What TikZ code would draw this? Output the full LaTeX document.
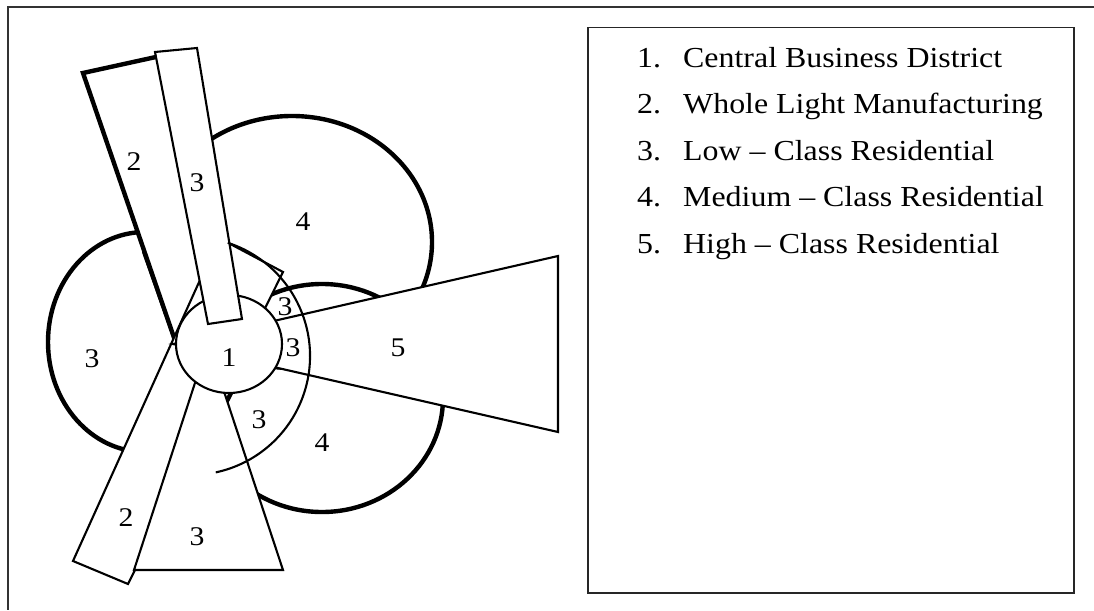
\documentclass[tikz,border=0pt]{standalone}
\usepackage{fontspec}
\setmainfont{Liberation Serif}
\newcommand{\hstretch}[1]{\scalebox{1.1}[1]{#1}}
\begin{document}
\begin{tikzpicture}[x=1pt,y=-1pt,
  zthin/.style={line width=2.1pt, draw=black},
  zthick/.style={line width=4.4pt, draw=black},
  zone/.style={zthin, fill=white},
  lab/.style={inner sep=0pt, font=\fontsize{27}{30}\selectfont},
  legtxt/.style={anchor=base west, inner sep=0pt, font=\fontsize{29}{34}\selectfont},
]
\useasboundingbox (0,0) rectangle (1094,610);
\fill[white] (0,0) rectangle (1094,610);

% outer frame (top and left only)
\coordinate (ftr) at (1094,7);
\coordinate (ftl) at (8,7);
\coordinate (fbl) at (8,610);
\draw[line width=2pt, black!80] (ftr) -- (ftl) -- (fbl);

% ellipses (zones 3 left, 4 upper, 4 lower)
\draw[zthick] (145,342) ellipse [x radius=97, y radius=110];
\draw[zthick] (292,242) ellipse [x radius=140, y radius=126];
\draw[zthick] (322,398) ellipse [x radius=121, y radius=114];

% upper wedge 2 (thick outline)
\draw[zthick, fill=white] (83,73) -- (165,55) -- (225,330) -- (180,355) -- cycle;
\draw[zthin] (143,252) -- (172,334);

% lower strip 2
\draw[zone] (73,561) -- (128,584) -- (283,272) -- (219,238) -- cycle;

% bottom triangle 3
\draw[zone] (134,570) -- (283,570) -- (208,343) -- cycle;

% sector 5
\draw[zone] (173,344) -- (558,256) -- (558,432) -- cycle;

% CBD
\draw[zone] (229,344) ellipse [x radius=53, y radius=49];

% upper strip 3
\draw[zone] (155,52) -- (197,48) -- (242,319) -- (208,324) -- cycle;

% ring of zone 3 around CBD
\draw[zthin] (227.8,242.8) arc[start angle=-72, end angle=78, radius=119];

% zone labels
\node[lab] (z2a) at (134,162) {\hstretch{2}};
\node[lab] (z3a) at (197,183) {\hstretch{3}};
\node[lab] (z4a) at (303,222) {\hstretch{4}};
\node[lab] (z3b) at (92,359) {\hstretch{3}};
\node[lab] (z1)  at (229,358) {\hstretch{1}};
\node[lab] (z3c) at (285,307) {\hstretch{3}};
\node[lab] (z3d) at (293,348) {\hstretch{3}};
\node[lab] (z5)  at (398,348) {\hstretch{5}};
\node[lab] (z3e) at (259,420) {\hstretch{3}};
\node[lab] (z4b) at (322,443) {\hstretch{4}};
\node[lab] (z2b) at (126,518) {\hstretch{2}};
\node[lab] (z3f) at (197,537) {\hstretch{3}};

% legend
\node[draw=black!85, line width=1.5pt, minimum width=486pt, minimum height=565pt,
      anchor=north west, inner sep=0pt] (legend) at (587,27) {};
\node[legtxt] (n1) at (637,67)    {\hstretch{1.}};
\node[legtxt] (t1) at (683,67)    {\hstretch{Central Business District}};
\node[legtxt] (n2) at (637,113.6) {\hstretch{2.}};
\node[legtxt] (t2) at (683,113.6) {\hstretch{Whole Light Manufacturing}};
\node[legtxt] (n3) at (637,160.2) {\hstretch{3.}};
\node[legtxt] (t3) at (683,160.2) {\hstretch{Low – Class Residential}};
\node[legtxt] (n4) at (637,206.8) {\hstretch{4.}};
\node[legtxt] (t4) at (683,206.8) {\hstretch{Medium – Class Residential}};
\node[legtxt] (n5) at (637,253.4) {\hstretch{5.}};
\node[legtxt] (t5) at (683,253.4) {\hstretch{High – Class Residential}};
\end{tikzpicture}
\end{document}
